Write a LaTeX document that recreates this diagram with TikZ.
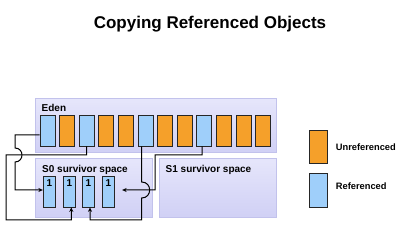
\documentclass[tikz,border=0pt]{standalone}
\usepackage{fontspec}
\setmainfont{Liberation Sans}
\usetikzlibrary{arrows.meta,calc}
\definecolor{boxtop}{HTML}{E6E6FB}
\definecolor{boxbot}{HTML}{D0D0F5}
\definecolor{boxline}{HTML}{C2C2EC}
\definecolor{orangec}{HTML}{F5A02A}
\definecolor{bluec}{HTML}{9FCFFA}
\tikzset{
  region/.style={draw=boxline, line width=0.8pt, top color=boxtop, bottom color=boxbot, rectangle, inner sep=0pt, anchor=north west},
  ecell/.style={draw=black!85, line width=0.8pt, rectangle, inner sep=0pt, minimum width=15pt, minimum height=31pt},
  scell/.style={draw=black!85, line width=0.8pt, rectangle, inner sep=0pt, minimum width=12.5pt, minimum height=31pt, fill=bluec,
     label={[label distance=-11.5pt, inner sep=0pt, font=\fontsize{10}{11}\selectfont\bfseries]north:1}},
  lbl/.style={font=\fontsize{10}{12}\selectfont\bfseries, inner sep=0pt, anchor=base west},
  leg/.style={font=\fontsize{9.3}{10}\selectfont\bfseries, inner sep=0pt, anchor=base west},
  conn/.style={draw=black, line width=1pt},
  arr/.style={conn, -{Stealth[length=4.5pt,width=4pt]}}
}
\begin{document}
\begin{tikzpicture}[x=1pt,y=-1pt]
\useasboundingbox (0,0) rectangle (404,229);
\node[font=\fontsize{17}{20}\selectfont\bfseries, inner sep=0pt, anchor=base] (title) at (210,28.5) {Copying Referenced Objects};
% regions
\node[region, minimum width=241pt, minimum height=54pt] (eden) at (35,98) {};
\node[region, minimum width=117pt, minimum height=59pt] (s0) at (35,158) {};
\node[region, minimum width=117pt, minimum height=59pt] (s1) at (159,158) {};
\node[lbl] (edenlbl) at (41.5,111.5) {Eden};
\node[lbl] (s0lbl) at (42,173) {S0 survivor space};
\node[lbl] (s1lbl) at (165.5,173) {S1 survivor space};
% eden cells
\foreach \i/\c in {1/bluec,2/orangec,3/bluec,4/orangec,5/orangec,6/bluec,7/orangec,8/orangec,9/bluec,10/orangec,11/orangec,12/orangec}
  \node[ecell, fill=\c] (e\i) at ({47.5+19.6*(\i-1)},130.5) {};
% survivor cells
\node[scell] (c1) at (49.5,191.5) {};
\node[scell] (c2) at (69.5,191.5) {};
\node[scell] (c3) at (88.5,191.5) {};
\node[scell] (c4) at (108.5,191.5) {};
% connectors
\draw[arr] ($(e1.west)+(0,4.5)$) -| (15,148) .. controls (24.3,148) and (24.3,162) .. (15,162) |- ($(c1.west)+(0,-1.5)$);
\draw[arr] (e3.south) -- (86.7,155) -| (6,220) -| ($(c2.south)+(1.8,0)$);
\draw[arr] ($(e6.south)+(-3.8,0)$) -- (141.7,182) .. controls (152.3,182) and (152.3,198) .. (141.7,198) -- (141.7,220) -| ($(c3.south)+(1.5,0)$);
\draw[arr] ($(e9.south)+(-2.3,0)$) -- (202,155) -| (155,190) -- ($(c4.east)+(7,-1.5)$);
% legend
\node[ecell, fill=orangec, minimum width=18pt, minimum height=33pt] (legu) at (318,146.5) {};
\node[ecell, fill=bluec, minimum width=18pt, minimum height=34pt] (legr) at (318,190) {};
\node[leg] (legutxt) at (335.7,150.7) {Unreferenced};
\node[leg] (legrtxt) at (335.7,190) {Referenced};
\end{tikzpicture}
\end{document}
